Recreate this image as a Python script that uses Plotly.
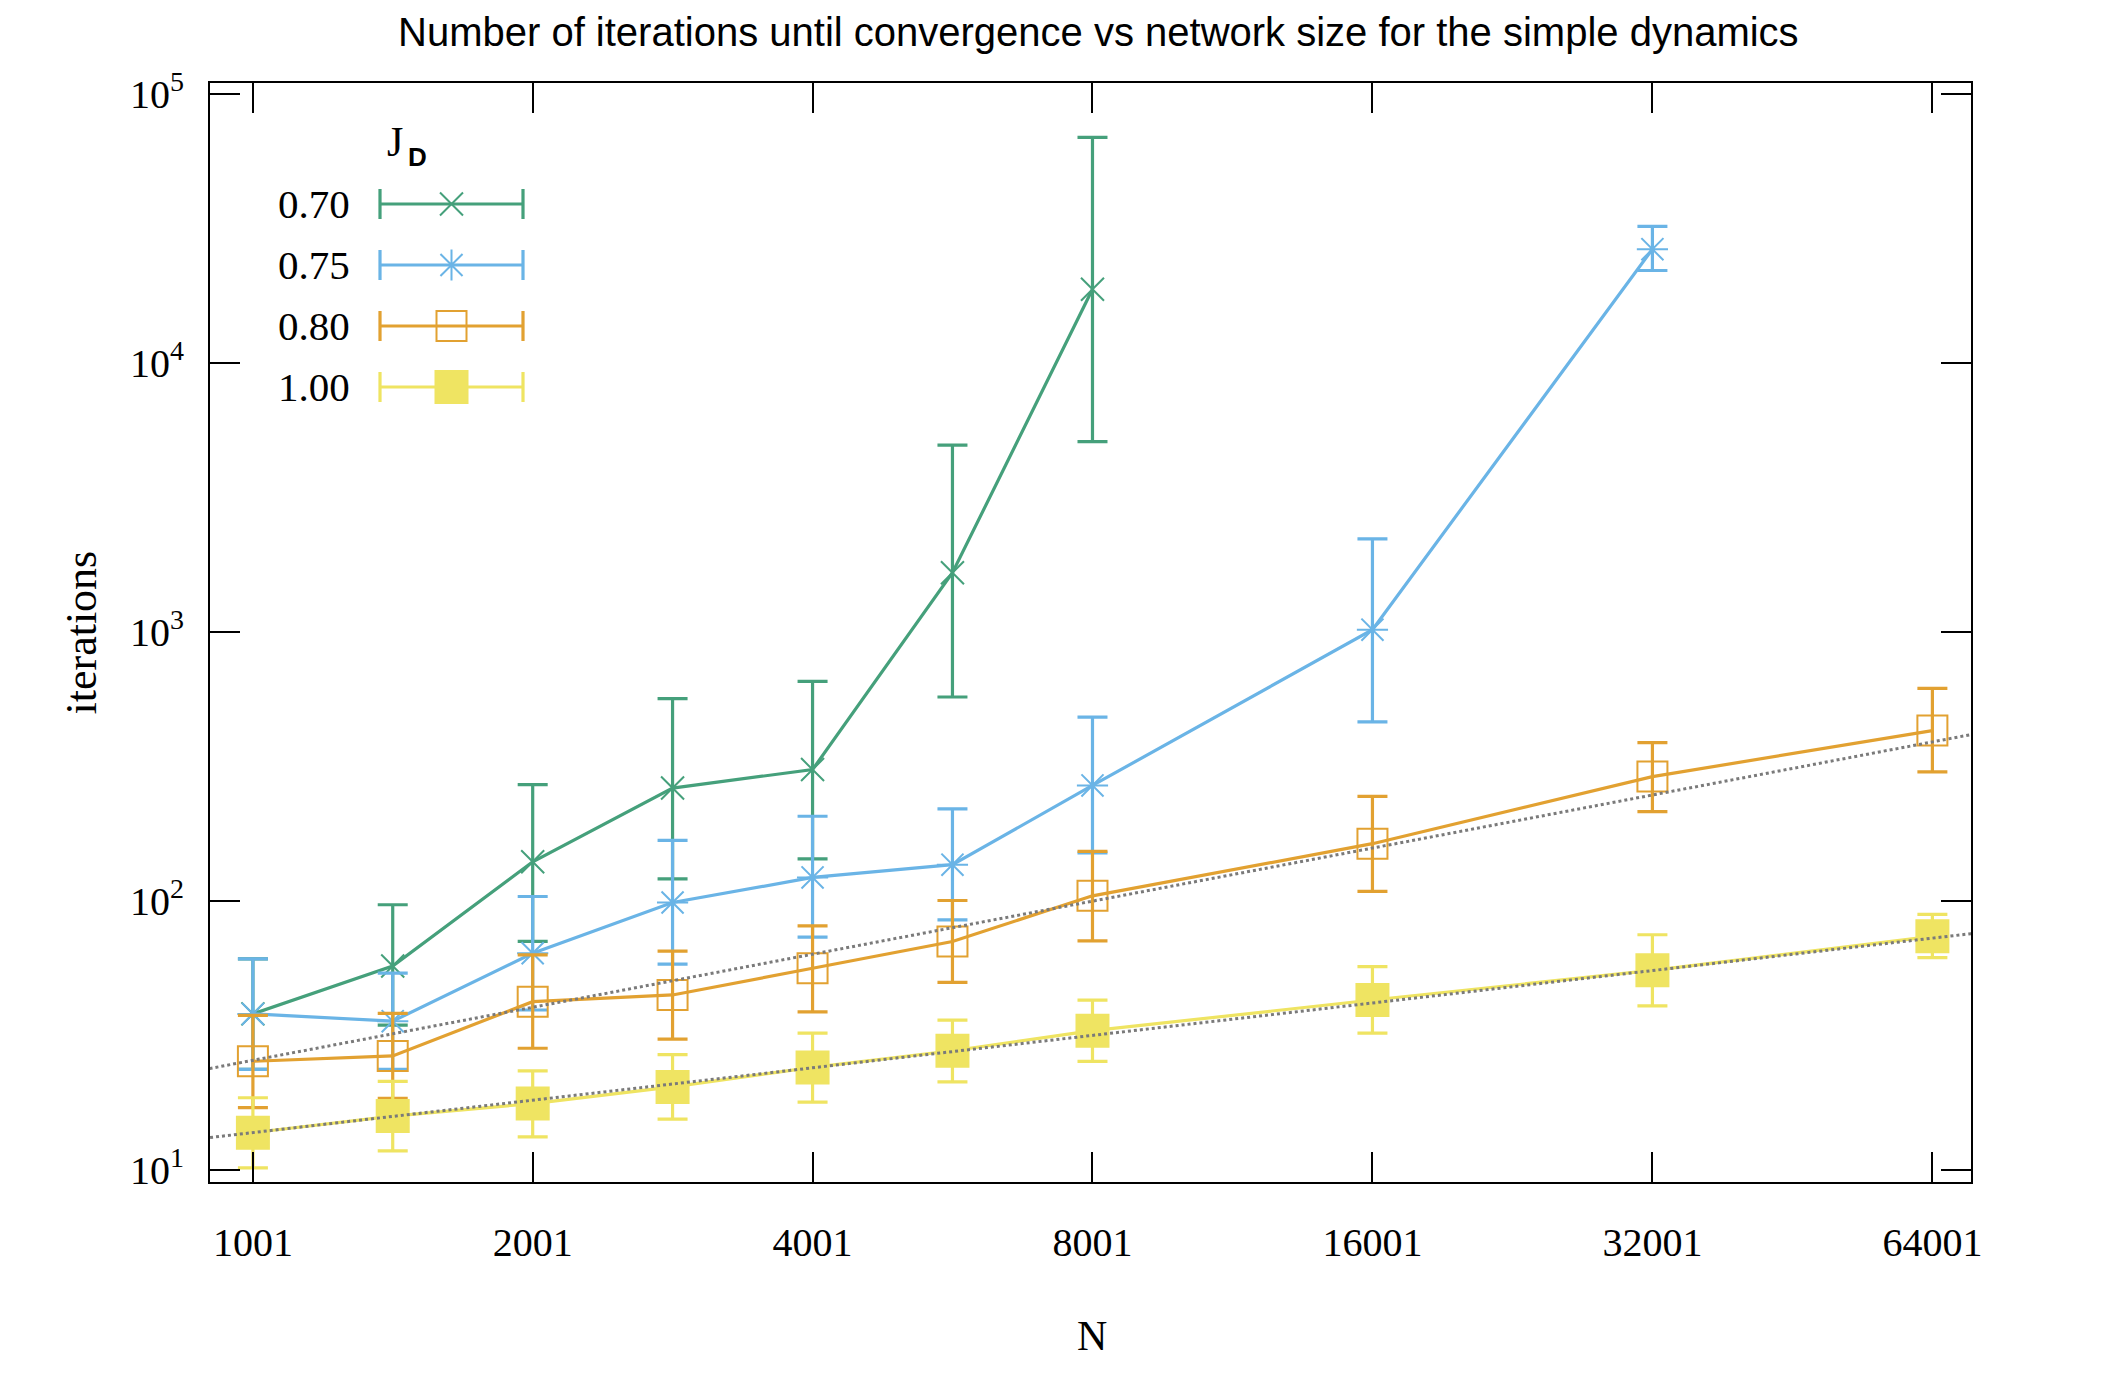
import numpy as np
import plotly.graph_objects as go

# ---------------- data ----------------
N = [1001, 1415, 2001, 2829, 4001, 5657, 8001, 16001, 32001, 64001]

jd_labels = ["0.70", "0.75", "0.80", "1.00"]

it_070 = [38.1, 57.4, 140, 263, 308, 1658, 18730]
lo_070 = [23.7, 34.6, 70.8, 121, 143.6, 573, 5090]
hi_070 = [61, 96.9, 271, 565, 655, 4943, 68700]

it_075 = [38.1, 35.8, 64, 98.8, 122.4, 136.5, 269, 1019, 26400]
lo_075 = [23.7, 23.7, 39.4, 58.3, 73.5, 85.2, 151, 463, 22000]
hi_075 = [61, 54, 104, 168, 206.6, 220, 482, 2217, 32100]

it_080 = [25.4, 26.6, 42.3, 44.8, 56.3, 70.8, 104.6, 163.4, 290, 430]
lo_080 = [17.1, 18.5, 28.4, 30.7, 38.8, 49.9, 71.1, 108.6, 215, 302]
hi_080 = [37.6, 38.3, 63.1, 65.2, 80.9, 100.5, 153, 245, 388, 617]

it_100 = [13.8, 15.9, 17.7, 20.4, 24.1, 27.8, 33, 42.9, 55.3, 74]
lo_100 = [10.2, 11.8, 13.3, 15.5, 17.9, 21.3, 25.4, 32.3, 40.8, 61.7]
hi_100 = [18.6, 21.4, 23.4, 26.9, 32.3, 36.1, 42.9, 57.1, 75, 89.2]

# power-law fits: iterations = a * (N/1000)^b
fit_a = [25.6, 13.8]
fit_b = [0.655, 0.40]

x_tickvals = [1001, 2001, 4001, 8001, 16001, 32001, 64001]
x_ticktext = ["1001", "2001", "4001", "8001", "16001", "32001", "64001"]
y_tickvals = [10, 100, 1000, 10000, 100000]
y_ticktext = ["10<sup>1</sup>", "10<sup>2</sup>", "10<sup>3</sup>", "10<sup>4</sup>", "10<sup>5</sup>"]

# ---------------- style ----------------
W, H = 2126, 1380
OFF = 8                      # page body margin offset
PL, PR, PT, PB = 210, 1971, 83, 1182   # plot box in page pixels
ML, MR, MT, MB = PL - OFF, W - (PR - OFF), PT - OFF, H - (PB - OFF)
SERIF = "Liberation Serif"
SANS = "Liberation Sans"

colors = ["#45a07b", "#6ab4e6", "#e2a131", "#efe462"]
symbols = ["x-thin-open", "asterisk-open", "square-open", "square"]
msizes = [23, 26, 30, 32]

series = [
    (it_070, lo_070, hi_070),
    (it_075, lo_075, hi_075),
    (it_080, lo_080, hi_080),
    (it_100, lo_100, hi_100),
]

fig = go.Figure()

for k, (it, lo, hi) in enumerate(series):
    n = len(it)
    xs = N[:n]
    plus = [h - v for h, v in zip(hi, it)]
    minus = [v - l for v, l in zip(it, lo)]
    fig.add_trace(go.Scatter(
        x=xs, y=it, mode="lines+markers",
        line=dict(color=colors[k], width=3.2),
        marker=dict(symbol=symbols[k], size=msizes[k], color=colors[k],
                    line=dict(color=colors[k], width=2)),
        error_y=dict(type="data", symmetric=False, array=plus, arrayminus=minus,
                     color=colors[k], thickness=3.2, width=15),
        showlegend=False, cliponaxis=True,
    ))

# fit lines (drawn on top)
Nfit = np.geomspace(800, 80000, 60)
for a, b in zip(fit_a, fit_b):
    fig.add_trace(go.Scatter(
        x=Nfit, y=a * (Nfit / 1000.0) ** b, mode="lines",
        line=dict(color="#7a7a7a", width=3, dash="dot"),
        showlegend=False, hoverinfo="skip",
    ))

# ---------------- custom gnuplot-style key (overlay axes in page pixels) ----------------
key_rows = [204, 265, 326, 387]
key_x0, key_x1 = 380, 523
key_xm = (key_x0 + key_x1) / 2
key_text_right = 352
for k in range(4):
    yk = key_rows[k]
    fig.add_trace(go.Scatter(
        x=[key_x0, key_x1], y=[yk, yk], xaxis="x2", yaxis="y2", mode="lines",
        line=dict(color=colors[k], width=3.2),
        error_y=dict(type="constant", value=15, color=colors[k], thickness=3.2, width=0),
        showlegend=False, hoverinfo="skip",
    ))
    fig.add_trace(go.Scatter(
        x=[key_xm], y=[yk], xaxis="x2", yaxis="y2", mode="markers",
        marker=dict(symbol=symbols[k], size=msizes[k], color=colors[k],
                    line=dict(color=colors[k], width=2)),
        showlegend=False, hoverinfo="skip",
    ))
    fig.add_annotation(x=key_text_right, y=yk, xref="x2", yref="y2", text=jd_labels[k],
                       showarrow=False, xanchor="right", yanchor="middle",
                       font=dict(family=SERIF, size=41, color="black"))

fig.add_annotation(x=395, y=142, xref="x2", yref="y2", text="J",
                   showarrow=False, xanchor="center", yanchor="middle",
                   font=dict(family=SERIF, size=42, color="black"))
fig.add_annotation(x=417, y=157, xref="x2", yref="y2", text="<b>D</b>",
                   showarrow=False, xanchor="center", yanchor="middle",
                   font=dict(family=SANS, size=26, color="black"))

# ---------------- titles ----------------
plot_w = PR - PL
plot_h = PB - PT
fig.add_annotation(x=(1098 - PL) / plot_w, y=(PB - 32) / plot_h, xref="paper", yref="paper",
                   text="Number of iterations until convergence vs network size for the simple dynamics",
                   showarrow=False, xanchor="center", yanchor="middle",
                   font=dict(family=SANS, size=40, color="black"))
fig.add_annotation(x=(81 - PL) / plot_w, y=0.5, xref="paper", yref="paper",
                   text="iterations", textangle=-90, showarrow=False,
                   xanchor="center", yanchor="middle",
                   font=dict(family=SERIF, size=44, color="black"))
fig.add_annotation(x=(1092 - PL) / plot_w, y=(PB - 1336) / plot_h, xref="paper", yref="paper",
                   text="N", showarrow=False, xanchor="center", yanchor="middle",
                   font=dict(family=SERIF, size=42, color="black"))

axis_common = dict(showgrid=False, zeroline=False, showline=True, linecolor="black",
                   linewidth=2, ticks="inside", ticklen=30, tickwidth=2, tickcolor="black",
                   mirror="allticks", tickfont=dict(family=SERIF, size=40, color="black"))

fig.update_layout(
    width=W, height=H,
    margin=dict(l=ML, r=MR, t=MT, b=MB, pad=0),
    paper_bgcolor="white", plot_bgcolor="white",
    xaxis=dict(type="log", range=[2.9543, 4.8477], tickvals=x_tickvals, ticktext=x_ticktext,
               ticklabelstandoff=24, **axis_common),
    yaxis=dict(type="log", range=[0.9565, 5.039], tickvals=y_tickvals, ticktext=y_ticktext,
               ticklabelstandoff=16, **axis_common),
    xaxis2=dict(overlaying="x", anchor="y2", range=[PL, PR], visible=False),
    yaxis2=dict(overlaying="y", anchor="x2", range=[PB, PT], visible=False),
    showlegend=False,
)

fig.write_html("out.html")
